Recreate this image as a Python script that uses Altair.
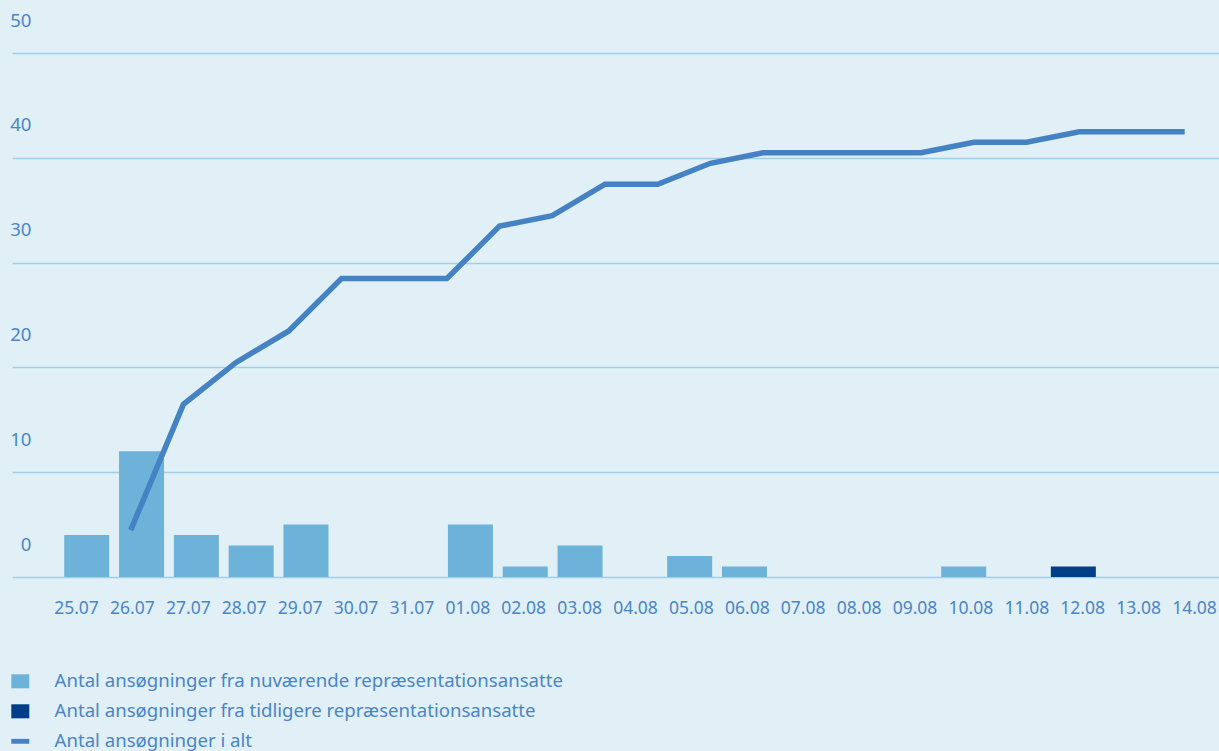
import altair as alt
import pandas as pd

# ---- data ----
dates = ["25.07", "26.07", "27.07", "28.07", "29.07", "30.07", "31.07",
         "01.08", "02.08", "03.08", "04.08", "05.08", "06.08", "07.08",
         "08.08", "09.08", "10.08", "11.08", "12.08", "13.08", "14.08"]
nuvaerende = [4, 12, 4, 3, 5, 0, 0, 5, 1, 3, 0, 2, 1, 0, 0, 0, 1, 0, 0, 0, 0]
tidligere = [0, 0, 0, 0, 0, 0, 0, 0, 0, 0, 0, 0, 0, 0, 0, 0, 0, 0, 1, 0, 0]
i_alt = [4, 16, 20, 23, 28, 28, 28, 33, 34, 37, 37, 39, 40, 40, 40, 40, 41, 41, 42, 42, 42]
y_ticks = [0, 10, 20, 30, 40, 50]

S1 = "Antal ansøgninger fra nuværende repræsentationsansatte"
S2 = "Antal ansøgninger fra tidligere repræsentationsansatte"
S3 = "Antal ansøgninger i alt"

# ---- styling ----
BG = "#e1eff7"
TEXT = "#4a86c6"
LIGHT = "#6db2d8"
DARK = "#003f87"
LINE = "#4582c4"
GRID = "#a2cfe8"
FONT = "Noto Sans"

RECT = "M-1,-0.78H1V0.78H-1Z"
DASH = "M-1,-0.27H1V0.27H-1Z"

bar_rows = []
for i, d in enumerate(dates):
    if nuvaerende[i]:
        bar_rows.append({"idx": i, "dato": d, "serie": S1, "antal": nuvaerende[i]})
    if tidligere[i]:
        bar_rows.append({"idx": i, "dato": d, "serie": S2, "antal": tidligere[i]})
bars_df = pd.DataFrame(bar_rows)
line_df = pd.DataFrame({"idx": list(range(len(dates))), "dato": dates,
                        "serie": S3, "antal": i_alt})
label_df = pd.DataFrame({"dato": dates, "antal": i_alt})

color_scale = alt.Scale(domain=[S1, S2, S3], range=[LIGHT, DARK, LINE])
legend = alt.Legend(
    orient="none", legendX=-1, legendY=619, title=None, padding=0,
    labelFontSize=18.6, labelColor=TEXT, labelFont=FONT, labelLimit=900,
    symbolSize=324, labelOffset=25, rowPadding=11,
    symbolType=alt.ExprRef(expr=f"datum.value === '{S3}' ? '{DASH}' : '{RECT}'"),
    symbolStrokeWidth=0, symbolOpacity=1,
)

y_axis = alt.Axis(values=y_ticks, grid=True, gridColor=GRID, gridWidth=1.6,
                  domain=False, ticks=False, labelAlign="right", labelPadding=-19,
                  labelOffset=-27, labelBaseline="alphabetic", labelFontSize=18.6,
                  labelColor=TEXT, labelFont=FONT, title=None)
y_scale = alt.Scale(domain=[0, 50], nice=False)

bars = alt.Chart(bars_df).mark_bar(size=45).encode(
    x=alt.X("idx:Q", scale=alt.Scale(domain=[-1.272, 20.566], nice=False, zero=False), axis=None),
    y=alt.Y("antal:Q", scale=y_scale, axis=y_axis),
    color=alt.Color("serie:N", scale=color_scale, legend=legend),
    order=alt.Order("serie:N"),
)

line = alt.Chart(line_df).mark_line(strokeWidth=5.5, yOffset=-5).encode(
    x=alt.X("idx:Q", scale=alt.Scale(domain=[-2.2524, 20.651], nice=False, zero=False), axis=None),
    y=alt.Y("antal:Q", scale=y_scale, axis=y_axis),
    color=alt.Color("serie:N", scale=color_scale, legend=legend),
)

labels = alt.Chart(label_df).mark_tick(opacity=0).encode(
    x=alt.X("dato:N", sort=dates,
            scale=alt.Scale(type="point", range=[64, 1182], padding=0),
            axis=alt.Axis(labelAngle=0, ticks=False, domain=False, grid=False,
                          labelPadding=36, labelBaseline="alphabetic",
                          labelFontSize=17.5, labelColor=TEXT, labelFont=FONT,
                          title=None)),
    y=alt.Y("antal:Q", scale=y_scale, axis=y_axis),
)

chart = alt.layer(bars, line, labels).resolve_scale(x="independent").properties(
    width=1207, height=524,
    padding={"left": 12, "top": 53, "right": 0, "bottom": 174},
    autosize=alt.AutoSizeParams(type="none"),
    background=BG,
).configure_view(stroke=None)

chart.save("out.html", embed_options={
    "renderer": "svg", "actions": False,
    "defaultStyle": "html,body{margin:0;padding:0;background:#e1eff7;overflow:hidden}",
})
